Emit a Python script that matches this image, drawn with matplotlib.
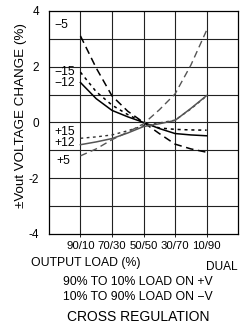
import matplotlib
matplotlib.use("Agg")
import matplotlib.pyplot as plt

plt.rcParams['font.family'] = ['Liberation Sans', 'DejaVu Sans']

# load steps (0 = left edge, 6 = right edge of grid)
load_pos = [1, 2, 3, 4, 5]
load_labels = ["90/10", "70/30", "50/50", "30/70", "10/90"]

# negative outputs (%)
x_neg = [1, 1.5, 2, 2.5, 3, 3.5, 4, 4.5, 5]
m5 = [3.1, 1.95, 0.95, 0.4, 0.0, -0.4, -0.78, -0.95, -1.07]
m15 = [1.8, 1.1, 0.62, 0.28, 0.0, -0.2, -0.25, -0.27, -0.28]
m12 = [1.43, 0.85, 0.43, 0.2, 0.0, -0.22, -0.4, -0.45, -0.48]

# positive outputs (%)
x_pos = [1, 1.5, 2, 2.5, 3, 3.5, 4, 4.5, 5]
p15 = [-0.57, -0.52, -0.45, -0.3, -0.12, -0.02, 0.08, 0.48, 0.95]
p12 = [-0.8, -0.7, -0.58, -0.38, -0.15, -0.05, 0.07, 0.5, 0.96]
p5 = [-1.2, -0.95, -0.62, -0.35, -0.05, 0.45, 1.02, 2.05, 3.3]

fig = plt.figure(figsize=(2.41, 3.29), dpi=100)
ax = fig.add_axes([0.203, 0.289, 0.785, 0.678])

ax.plot(x_neg, m5, color='black', lw=1.1, dashes=(5, 3))
ax.plot(x_neg, m15, color='black', lw=1.1, dashes=(2, 2.5))
ax.plot(x_neg, m12, color='black', lw=1.1)
ax.plot(x_pos, p15, color='#333333', lw=1.0, dashes=(2, 2.5))
ax.plot(x_pos, p12, color='#555555', lw=1.1)
ax.plot(x_pos, p5, color='#555555', lw=1.0, dashes=(5, 3))

ax.set_xlim(0, 6)
ax.set_ylim(-4, 4)
for v in range(1, 6):
    ax.axvline(v, color='#222222', lw=0.8, zorder=0)
for v in range(-3, 4):
    ax.axhline(v, color='#222222', lw=0.8, zorder=0)

ax.set_xticks(load_pos)
ax.set_xticklabels(load_labels, fontsize=8.2)
ax.set_yticks([-4, -2, 0, 2, 4])
ax.set_yticklabels(["-4", "-2", "0", "2", "4"], fontsize=8.5)
ax.tick_params(axis='x', length=2, pad=3, width=0.6)
ax.tick_params(axis='y', length=0, pad=7)
for s in ax.spines.values():
    s.set_linewidth(0.9)
ax.set_ylabel("±Vout VOLTAGE CHANGE (%)", fontsize=9.6, labelpad=1, y=0.53)

lbl = dict(fontsize=8.7, ha='left', va='center')
ax.text(0.17, 3.5, "\u22125", **lbl)
ax.text(0.17, 1.8, "\u221215", **lbl)
ax.text(0.17, 1.4, "\u221212", **lbl)
ax.text(0.17, -0.36, "+15", **lbl)
ax.text(0.17, -0.75, "+12", **lbl)
ax.text(0.25, -1.39, "+5", **lbl)

fig.text(0.357, 0.2, "OUTPUT LOAD (%)", fontsize=8.8, ha='center', va='center')
fig.text(0.985, 0.188, "DUAL", fontsize=8.6, ha='right', va='center')
fig.text(0.573, 0.143, "90% TO 10% LOAD ON +V", fontsize=8.8, ha='center', va='center')
fig.text(0.573, 0.097, "10% TO 90% LOAD ON \u2212V", fontsize=8.8, ha='center', va='center')
fig.text(0.573, 0.037, "CROSS REGULATION", fontsize=10, ha='center', va='center')

fig.savefig("out.png", dpi=100)
